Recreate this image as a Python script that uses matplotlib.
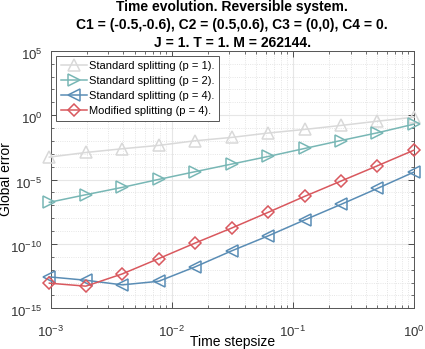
import numpy as np
import matplotlib
matplotlib.use('Agg')
import matplotlib.pyplot as plt
import matplotlib.transforms as mtransforms
from matplotlib.ticker import LogLocator, NullFormatter

plt.rcParams['font.family'] = ['Liberation Sans', 'DejaVu Sans']
plt.rcParams['mathtext.fontset'] = 'custom'
plt.rcParams['mathtext.rm'] = 'Liberation Sans'

# time stepsizes 1/2^k
h = [1/1024, 1/512, 1/256, 1/128, 1/64, 1/32, 1/16, 1/8, 1/4, 1/2, 1]

# log10 of global error
err_p1 = [-3.26, -2.90, -2.61, -2.35, -1.99, -1.73, -1.39, -1.11, -0.80, -0.47, -0.16]
err_p2 = [-6.77, -6.18, -5.61, -4.99, -4.39, -3.80, -3.21, -2.59, -1.97, -1.37, -0.70]
err_p4 = [-12.56, -12.82, -13.18, -12.90, -11.78, -10.54, -9.38, -8.14, -6.93, -5.69, -4.42]
err_mod = [-13.05, -13.28, -12.33, -11.14, -9.93, -8.77, -7.55, -6.31, -5.12, -3.93, -2.72]

labels = ['Standard splitting (p = 1).', 'Standard splitting (p = 2).',
          'Standard splitting (p = 4).', 'Modified splitting (p = 4).']
colors = ['#d9d9d9', '#78b7b5', '#5a8db5', '#d9585e']
markers = ['^', '>', '<', 'D']

fig = plt.figure(figsize=(4.25, 3.49), dpi=100)
ax = fig.add_axes([0.119, 0.1166, 0.855, 0.738])

for e, lab, c, m in zip([err_p1, err_p2, err_p4, err_mod], labels, colors, markers):
    ms = 6.5 if m == 'D' else 8.5
    ax.loglog(h, 10.0 ** np.array(e), color=c, marker=m, markersize=ms,
              markerfacecolor='none', markeredgewidth=1.1, linewidth=1.1,
              label=lab, clip_on=False, zorder=3)

ax.set_xlim(1e-3, 1)
ax.set_ylim(1e-15, 1e5)
ax.set_yticks([1e-15, 1e-10, 1e-5, 1e0, 1e5])
ax.yaxis.set_minor_locator(LogLocator(base=10, subs=[1.0], numticks=30))
ax.yaxis.set_minor_formatter(NullFormatter())
ax.xaxis.set_minor_locator(LogLocator(base=10, subs=np.arange(2, 10), numticks=30))
ax.xaxis.set_minor_formatter(NullFormatter())

ax.tick_params(which='both', direction='in', top=True, right=True, labelsize=9.5, colors='#333333')
ax.tick_params(which='major', length=4, width=0.6)
ax.tick_params(which='minor', length=2.5, width=0.5)
ax.tick_params(axis='x', pad=12)
ax.tick_params(axis='y', pad=6)
ax.grid(which='major', color='#e6e6e6', linewidth=0.8, linestyle='-')
ax.grid(which='minor', color='#dddddd', linewidth=0.6, linestyle=':')
ax.set_axisbelow(True)
for s in ax.spines.values():
    s.set_color('#555555')
    s.set_linewidth(0.7)

# nudge y tick labels down a little, like the reference
shift = mtransforms.ScaledTranslation(0, -3 / 100, fig.dpi_scale_trans)
for t in ax.get_yticklabels():
    t.set_transform(t.get_transform() + shift)

ax.set_xlabel('Time stepsize', fontsize=10, labelpad=-4)
ax.set_ylabel('Global error', fontsize=10)
ax.yaxis.set_label_coords(-0.103, 0.5)
ax.set_title('Time evolution. Reversible system.\n'
             'C1 = (-0.5,-0.6), C2 = (0.5,0.6), C3 = (0,0), C4 = 0.\n'
             'J = 1. T = 1. M = 262144.',
             fontsize=10, fontweight='bold', linespacing=1.36, pad=3)

leg = ax.legend(loc='upper left', fontsize=8, frameon=True, fancybox=False,
                edgecolor='#555555', framealpha=1, borderpad=0.45,
                labelspacing=0.45, handlelength=2.3, handletextpad=0.2,
                borderaxespad=0.5)
leg.get_frame().set_linewidth(0.7)

fig.savefig('out.png', dpi=100)
